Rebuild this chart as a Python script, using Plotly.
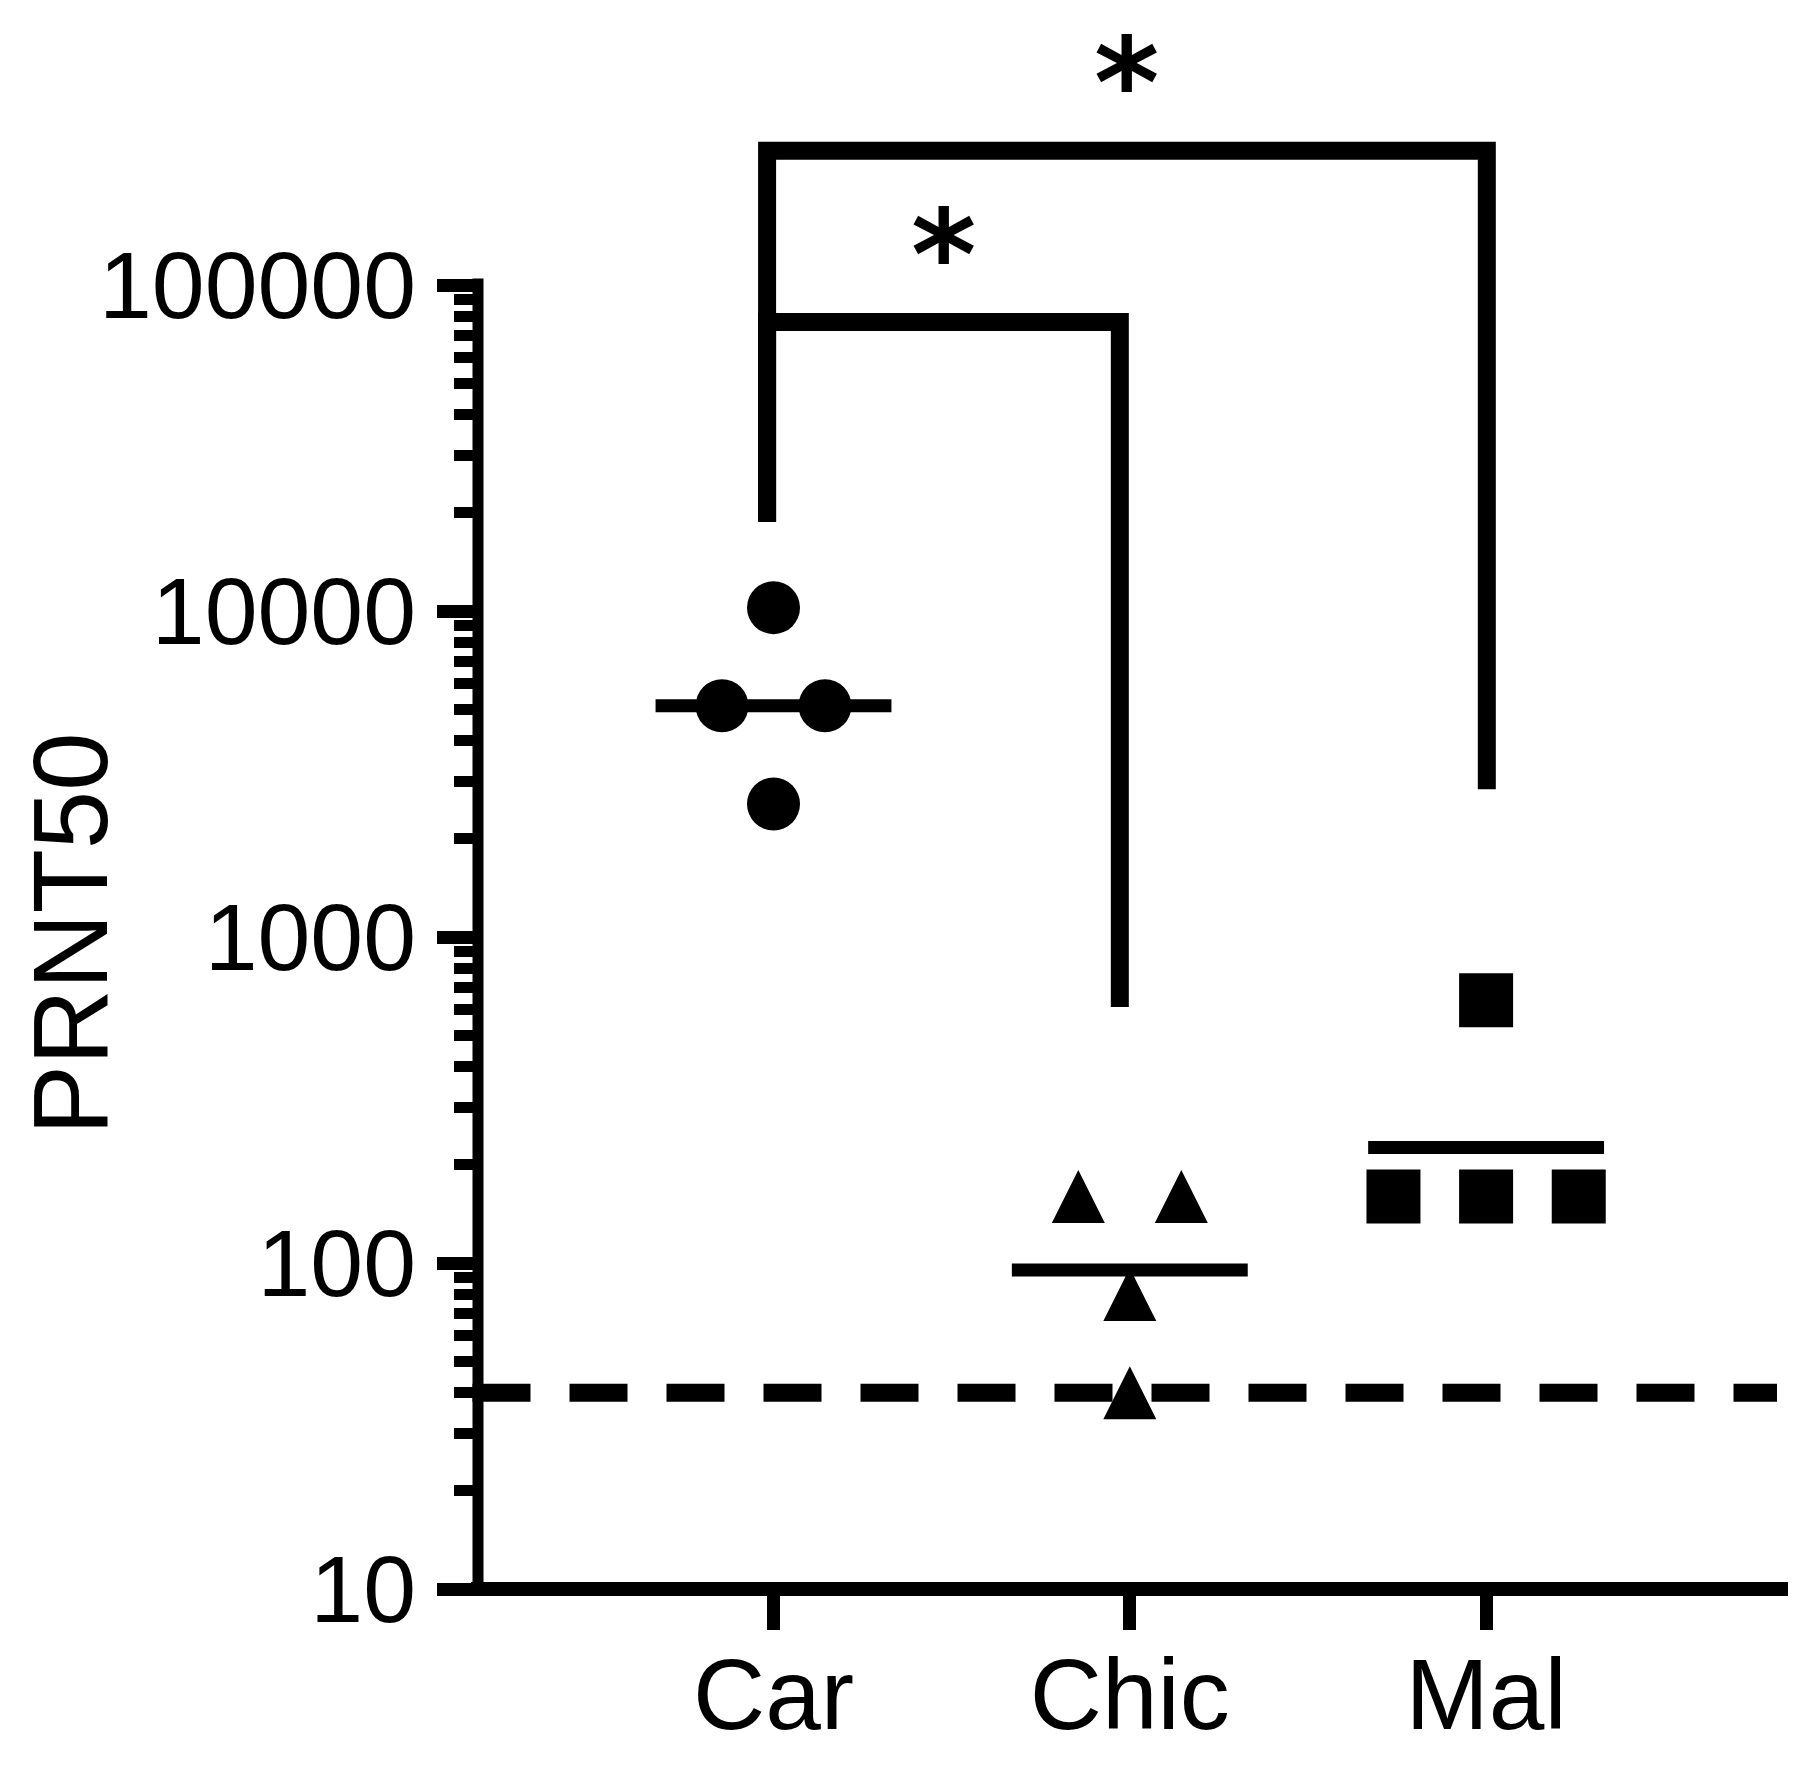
import math
from collections import Counter
import plotly.graph_objects as go

# ---------------- data ----------------
categories = ["Car", "Chic", "Mal"]
car_values = [10240, 5120, 5120, 2560]
chic_values = [160, 160, 80, 40]
mal_values = [640, 160, 160, 160]
detection_limit = 40

y_major_ticks = [10, 100, 1000, 10000, 100000]
y_major_text = ["10", "100", "1000", "10000", "100000"]
y_minor_ticks = [m * 10 ** e for e in range(1, 5) for m in range(2, 10)]

comparisons = [("Car", "Chic"), ("Car", "Mal")]
comparison_labels = ["*", "*"]
bracket_tops = [77000, 258000]
bracket_left_bottoms = [18750, 18750]
bracket_right_bottoms = [610, 2840]

# ---------------- style / geometry ----------------
PAGE_OFF = 8                      # default body margin of the html page
W, H = 1819 - 2 * PAGE_OFF, 1766 - 2 * PAGE_OFF
PLOT_LEFT, PLOT_RIGHT = 478, 1788     # window pixels
PLOT_TOP, PLOT_BOTTOM = 20, 1589
ML = PLOT_LEFT - PAGE_OFF
MT = PLOT_TOP - PAGE_OFF
MR = W - (PLOT_RIGHT - PAGE_OFF)
MB = H - (PLOT_BOTTOM - PAGE_OFF)
PLOT_W = PLOT_RIGHT - PLOT_LEFT
PLOT_H = PLOT_BOTTOM - PLOT_TOP
DECADE_PX = 326.0
Y_RANGE = [1, 1 + PLOT_H / DECADE_PX]
CAT_PX = 356.3
CAT0_PX = 773.5
X_RANGE = [-(CAT0_PX - PLOT_LEFT) / CAT_PX, (PLOT_RIGHT - CAT0_PX) / CAT_PX]

FONT = "Liberation Sans, Arial, sans-serif"
STAR_FONT = "DejaVu Sans"
BLACK = "#000000"
MEAN_HALF = 0.331
GAPS = {2: 0.289, 3: 0.26}
bracket_x_shift = [(-0.018, -0.028), (-0.018, 0.002)]
AXIS_W = 11

groups = [car_values, chic_values, mal_values]
markers = [
    dict(symbol="circle", size=53),
    dict(symbol="arrow-down", size=53, angle=180, standoff=26.5),
    dict(symbol="square", size=54),
]


def spread(values):
    counts = Counter(values)
    seen = {}
    out = []
    for v in values:
        n = counts[v]
        k = seen.get(v, 0)
        seen[v] = k + 1
        out.append((k - (n - 1) / 2) * GAPS.get(n, 0.26) if n > 1 else 0.0)
    return out


def geo_mean(values):
    return 10 ** (sum(math.log10(v) for v in values) / len(values))


fig = go.Figure()

for i, (vals, mk) in enumerate(zip(groups, markers)):
    gm = geo_mean(vals)
    fig.add_trace(go.Scatter(
        x=[i - MEAN_HALF, i + MEAN_HALF], y=[gm, gm], mode="lines",
        line=dict(color=BLACK, width=13), hoverinfo="skip", showlegend=False))
    offs = spread(vals)
    fig.add_trace(go.Scatter(
        x=[i + o for o in offs], y=vals, mode="markers",
        marker=dict(color=BLACK, line=dict(width=0), **mk),
        cliponaxis=False, showlegend=False, name=categories[i]))

annotations = []
for (a, b), lab, top, lb, rb, (sa, sb) in zip(comparisons, comparison_labels, bracket_tops,
                                            bracket_left_bottoms, bracket_right_bottoms,
                                            bracket_x_shift):
    xa = categories.index(a) + sa
    xb = categories.index(b) + sb
    fig.add_trace(go.Scatter(
        x=[xa, xa, xb, xb], y=[lb, top, top, rb], mode="lines",
        line=dict(color=BLACK, width=18), hoverinfo="skip", showlegend=False))
    annotations.append(dict(
        x=(xa + xb) / 2, y=math.log10(top), xref="x", yref="y",
        text=lab, showarrow=False, yanchor="middle", xanchor="center", yshift=67,
        font=dict(family=STAR_FONT, size=125, color=BLACK, weight="bold")))

annotations.append(dict(
    x=(71 - PLOT_LEFT) / PLOT_W, y=(PLOT_BOTTOM - 934) / PLOT_H, xref="paper", yref="paper",
    text="PRNT50", textangle=-90, showarrow=False, xanchor="center", yanchor="middle",
    font=dict(family=FONT, size=105, color=BLACK)))

axis_top = 1e5 * 10 ** (6.5 / DECADE_PX)
shapes = [
    # limit of detection
    dict(type="line", xref="paper", yref="y", x0=-(AXIS_W / 2) / PLOT_W,
         x1=(1777 - PLOT_LEFT) / PLOT_W, y0=detection_limit, y1=detection_limit,
         line=dict(color=BLACK, width=18, dash="58px,39px"), layer="below"),
    # y-axis line
    dict(type="line", xref="paper", yref="y", x0=0, x1=0, y0=10, y1=axis_top,
         line=dict(color=BLACK, width=AXIS_W), layer="above"),
    # x-axis line
    dict(type="line", xref="paper", yref="paper", x0=-7 / PLOT_W, x1=1, y0=0, y1=0,
         line=dict(color=BLACK, width=14), layer="above"),
]

fig.update_layout(
    width=W, height=H, autosize=False,
    margin=dict(l=ML, r=MR, t=MT, b=MB, pad=0),
    paper_bgcolor="white", plot_bgcolor="white",
    showlegend=False, shapes=shapes, annotations=annotations,
    font=dict(family=FONT, color=BLACK),
)
fig.update_xaxes(
    range=X_RANGE, showgrid=False, zeroline=False, showline=False,
    tickmode="array", tickvals=list(range(len(categories))), ticktext=categories,
    ticks="outside", ticklen=40, tickwidth=13, tickcolor=BLACK,
    tickfont=dict(family=FONT, size=100, color=BLACK), ticklabelstandoff=-21,
    automargin=False,
)
fig.update_yaxes(
    type="log", range=Y_RANGE, showgrid=False, zeroline=False, showline=False,
    tickmode="array", tickvals=y_major_ticks, ticktext=y_major_text,
    ticks="outside", ticklen=40, tickwidth=13, tickcolor=BLACK,
    tickfont=dict(family=FONT, size=95, color=BLACK), ticklabelstandoff=2,
    minor=dict(tickmode="array", tickvals=y_minor_ticks, ticks="outside",
               ticklen=23, tickwidth=11, tickcolor=BLACK, showgrid=False),
    automargin=False,
)

fig.write_html("out.html")
